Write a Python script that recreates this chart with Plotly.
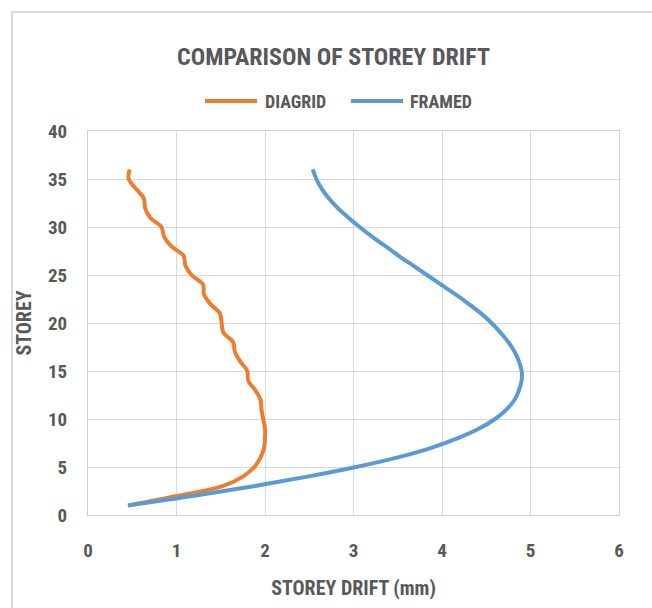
import plotly.graph_objects as go

# Storey numbers and inter-storey drift (mm) for the two structural systems
storeys = list(range(1, 37))
diagrid_drift = [0.46, 1.02, 1.52, 1.75, 1.88, 1.95, 1.99, 2.00, 2.00, 1.98,
                 1.96, 1.95, 1.89, 1.81, 1.80, 1.72, 1.66, 1.64, 1.53, 1.51,
                 1.49, 1.38, 1.31, 1.30, 1.17, 1.10, 1.08, 0.94, 0.86, 0.83,
                 0.70, 0.645, 0.63, 0.54, 0.46, 0.47]
framed_drift = [0.45, 1.20, 1.87, 2.48, 3.03, 3.50, 3.88, 4.18, 4.42, 4.60,
                4.73, 4.82, 4.87, 4.90, 4.90, 4.87, 4.82, 4.75, 4.66, 4.56,
                4.44, 4.30, 4.15, 3.99, 3.83, 3.67, 3.51, 3.36, 3.21, 3.07,
                2.94, 2.82, 2.72, 2.64, 2.58, 2.54]

series_names = ["DIAGRID", "FRAMED"]
series_colors = ["#ED7D31", "#5B9BD5"]

x_ticks = [0, 1, 2, 3, 4, 5, 6]
y_ticks = [0, 5, 10, 15, 20, 25, 30, 35, 40]

FONT = "Liberation Sans Narrow, Roboto Condensed, Arial Narrow, Liberation Sans, sans-serif"
TEXT = "#595959"
GRID = "#d9d9d9"

fig = go.Figure()
for name, color, xs in zip(series_names, series_colors, [diagrid_drift, framed_drift]):
    fig.add_trace(go.Scatter(
        x=xs, y=storeys, name=name, mode="lines",
        line=dict(color=color, width=4, shape="spline", smoothing=1.0),
        showlegend=False,
    ))

axis_common = dict(
    showgrid=True, gridcolor=GRID, gridwidth=1,
    showline=True, linecolor="#d0d0d0", linewidth=1, mirror=True,
    zeroline=False, ticks="",
    tickfont=dict(family=FONT, size=19, color=TEXT, weight="bold"),
)

fig.update_layout(
    width=652, height=608,
    margin=dict(l=88, r=33, t=131, b=93),
    paper_bgcolor="white", plot_bgcolor="white",
    font=dict(family=FONT, color=TEXT),
    title=dict(
        text="<b>COMPARISON OF STOREY DRIFT</b>",
        font=dict(family=FONT, size=24, color=TEXT),
        x=0.5115, xanchor="center", xref="container",
        y=1 - 57 / 608, yanchor="middle", yref="container",
    ),
    xaxis=dict(
        range=[0, 6], tickvals=x_ticks,
        title=dict(text="<b>STOREY DRIFT (mm)</b>", standoff=20,
                   font=dict(family=FONT, size=20, color=TEXT)),
        ticklabelstandoff=18,
        **axis_common,
    ),
    yaxis=dict(
        range=[0, 40], tickvals=y_ticks,
        title=dict(text="<b>STOREY</b>", standoff=10,
                   font=dict(family=FONT, size=20, color=TEXT)),
        ticklabelstandoff=16,
        **axis_common,
    ),
    showlegend=False,
)

# Legend: line samples with series names above the plot area
PLOT_W, PLOT_H, LEFT, BOTTOM = 531, 384, 88, 515
def px_x(p):
    return (p - LEFT) / PLOT_W
def px_y(p):
    return (BOTTOM - p) / PLOT_H

legend_y = px_y(101)
legend_items = [(205, 257, 263), (351, 403, 408)]
for (l0, l1, tx), name, color in zip(legend_items, series_names, series_colors):
    fig.add_shape(type="line", xref="paper", yref="paper",
                  x0=px_x(l0), x1=px_x(l1), y0=legend_y, y1=legend_y,
                  line=dict(color=color, width=4))
    fig.add_annotation(xref="paper", yref="paper", x=px_x(tx), y=legend_y,
                       xanchor="left", yanchor="middle", showarrow=False,
                       text=f"<b>{name}</b>",
                       font=dict(family=FONT, size=18, color=TEXT))

# Chart-area frame (top and left edges)
fig.add_shape(type="line", xref="paper", yref="paper",
              x0=px_x(12), x1=1.3, y0=px_y(12), y1=px_y(12),
              line=dict(color=GRID, width=2))
fig.add_shape(type="line", xref="paper", yref="paper",
              x0=px_x(12), x1=px_x(12), y0=-0.4, y1=px_y(12),
              line=dict(color=GRID, width=2))

fig.write_html("out.html")
